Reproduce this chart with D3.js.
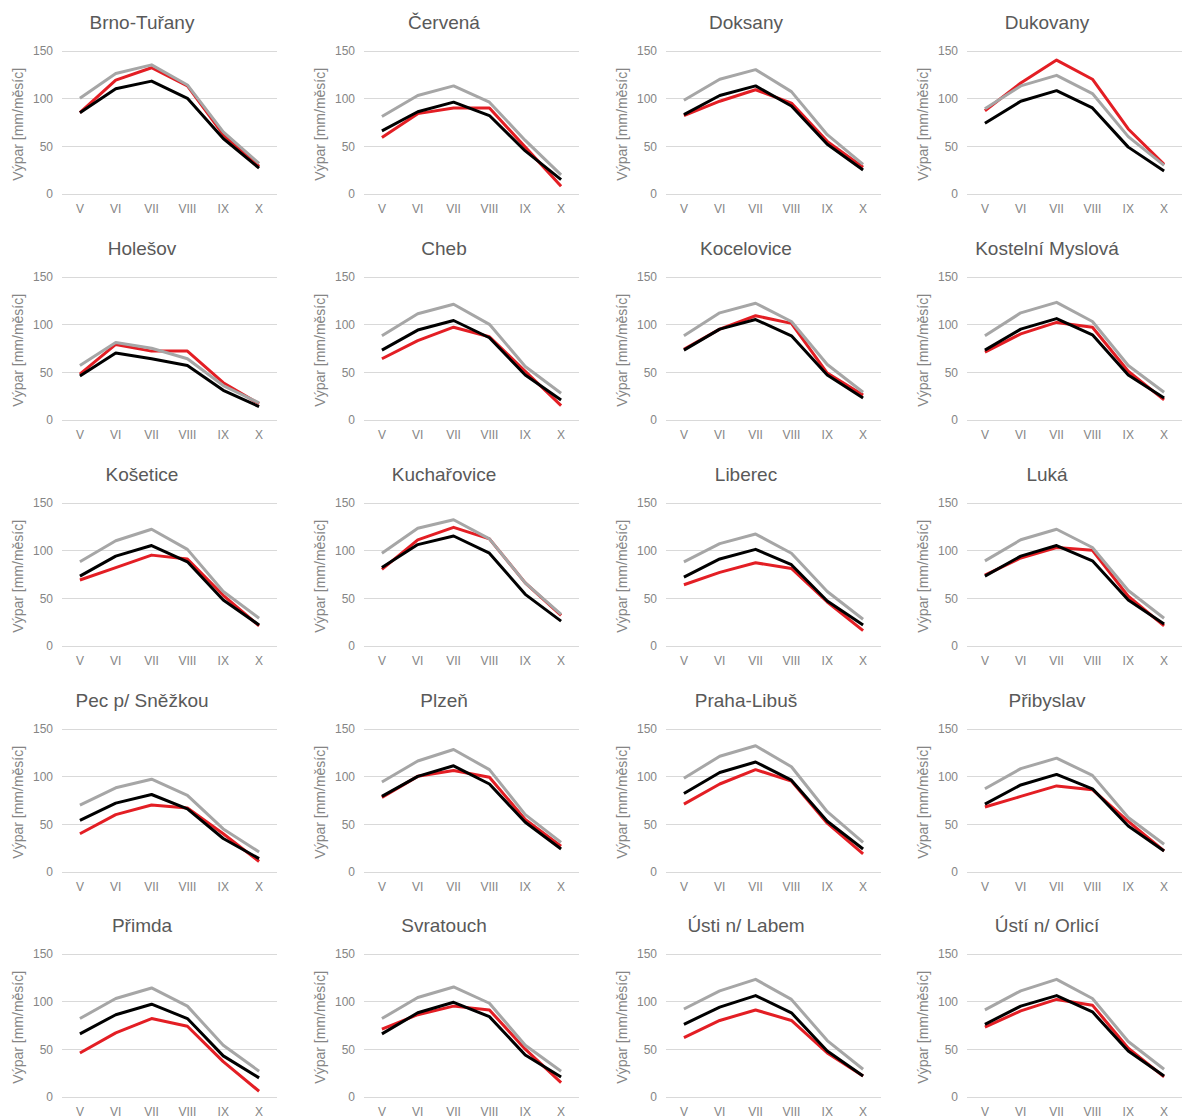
<!DOCTYPE html>
<html>
<head>
<meta charset="utf-8">
<script src="https://cdn.jsdelivr.net/npm/d3@7"></script>
<style>
  body { margin: 0; background: #fff; }
  text { font-family: "Liberation Sans", Arial, sans-serif; }
  .grid line { stroke: #d9d9d9; stroke-width: 1; }
  .axis text { fill: #858585; font-size: 12px; }
  .title { fill: #595959; font-size: 19px; }
  .ytitle { fill: #858585; font-size: 14px; }
  .line { fill: none; stroke-width: 3; stroke-linejoin: round; }
</style>
</head>
<body>
<svg id="chart" width="1182" height="1119"></svg>
<script>
var stations = ["Brno-Tuřany", "Červená", "Doksany", "Dukovany",
  "Holešov", "Cheb", "Kocelovice", "Kostelní Myslová",
  "Košetice", "Kuchařovice", "Liberec", "Luká",
  "Pec p/ Sněžkou", "Plzeň", "Praha-Libuš", "Přibyslav",
  "Přimda", "Svratouch", "Ústi n/ Labem", "Ústí n/ Orlicí"];

var months = ["V", "VI", "VII", "VIII", "IX", "X"];
var yTicks = [0, 50, 100, 150];

// light gray series
var grayVals = [
  [100, 126, 135, 114, 65, 32],
  [81, 103, 113, 96, 56, 20],
  [98, 120, 130, 107, 62, 31],
  [89, 113, 124, 105, 60, 30],
  [57, 81, 75, 64, 36, 18],
  [88, 111, 121, 100, 56, 28],
  [88, 112, 122, 103, 58, 29],
  [88, 112, 123, 103, 57, 29],
  [88, 110, 122, 101, 57, 29],
  [97, 123, 132, 112, 66, 33],
  [88, 107, 117, 97, 57, 28],
  [89, 111, 122, 103, 58, 29],
  [70, 88, 97, 80, 45, 21],
  [94, 116, 128, 107, 60, 31],
  [98, 121, 132, 110, 63, 31],
  [87, 108, 119, 101, 57, 29],
  [82, 103, 114, 95, 54, 27],
  [82, 104, 115, 98, 54, 27],
  [92, 111, 123, 102, 59, 29],
  [91, 111, 123, 103, 58, 29]
];

// black series
var blackVals = [
  [85, 110, 118, 100, 58, 27],
  [66, 86, 96, 82, 45, 15],
  [83, 103, 113, 92, 52, 25],
  [74, 97, 108, 90, 49, 24],
  [46, 70, 64, 57, 31, 14],
  [73, 94, 104, 86, 47, 21],
  [73, 95, 105, 88, 47, 23],
  [73, 95, 106, 89, 47, 23],
  [73, 94, 105, 88, 48, 22],
  [82, 106, 115, 97, 54, 26],
  [72, 91, 101, 85, 47, 22],
  [73, 94, 105, 89, 48, 23],
  [54, 72, 81, 66, 35, 14],
  [79, 100, 111, 92, 52, 24],
  [82, 104, 115, 96, 53, 24],
  [71, 91, 102, 87, 48, 22],
  [66, 86, 97, 82, 43, 20],
  [66, 88, 99, 84, 44, 21],
  [76, 94, 106, 88, 48, 22],
  [76, 95, 106, 89, 48, 22]
];

// red series
var redVals = [
  [85, 119, 132, 113, 62, 29],
  [59, 84, 90, 90, 49, 8],
  [82, 97, 109, 95, 55, 28],
  [87, 116, 140, 120, 68, 31],
  [48, 79, 72, 72, 39, 17],
  [64, 83, 97, 87, 51, 15],
  [74, 95, 109, 101, 49, 26],
  [71, 90, 102, 97, 51, 21],
  [69, 82, 95, 91, 53, 21],
  [80, 111, 124, 112, 66, 32],
  [64, 77, 87, 81, 46, 16],
  [74, 92, 103, 100, 52, 21],
  [40, 60, 70, 67, 40, 11],
  [78, 100, 106, 99, 55, 27],
  [71, 92, 107, 95, 51, 19],
  [68, 79, 90, 86, 53, 22],
  [46, 67, 82, 74, 37, 6],
  [71, 86, 95, 91, 50, 15],
  [62, 80, 91, 80, 46, 22],
  [73, 90, 102, 96, 51, 21]
];

var svg = d3.select("#chart");

var colX = [0, 302, 604, 905];
var rowY = [0, 226, 452, 678, 903];
var plot = {left: 62, right: 277, top: 50.5, bottom: 194};

var x = d3.scaleBand().domain(months).range([plot.left, plot.right]);
var y = d3.scaleLinear().domain([0, 150]).range([plot.bottom, plot.top]);

var line = d3.line()
    .x(function(d, i) { return x(months[i]) + x.bandwidth() / 2; })
    .y(function(d) { return y(d); });

stations.forEach(function(name, k) {
  var g = svg.append("g")
      .attr("transform", "translate(" + colX[k % 4] + "," + rowY[Math.floor(k / 4)] + ")");

  // gridlines
  g.append("g")
      .attr("class", "grid")
    .selectAll("line")
    .data(yTicks)
    .enter().append("line")
      .attr("x1", plot.left)
      .attr("x2", plot.right)
      .attr("y1", function(d) { return Math.round(y(d)) + 0.5; })
      .attr("y2", function(d) { return Math.round(y(d)) + 0.5; });

  // y axis labels
  var yAxis = d3.axisLeft(y).tickValues(yTicks).tickSize(0).tickPadding(9);
  g.append("g")
      .attr("class", "axis")
      .attr("transform", "translate(" + plot.left + ",0)")
      .call(yAxis)
      .call(function(a) { a.select(".domain").remove(); });

  // x axis labels
  var xAxis = d3.axisBottom(x).tickSize(0).tickPadding(10);
  g.append("g")
      .attr("class", "axis")
      .attr("transform", "translate(0," + plot.bottom + ")")
      .call(xAxis)
      .call(function(a) { a.select(".domain").remove(); });

  g.selectAll(".axis").attr("font-family", null).attr("font-size", null);

  g.append("text")
      .attr("class", "ytitle")
      .attr("transform", "translate(23," + ((plot.top + plot.bottom) / 2 + 2) + ") rotate(-90)")
      .attr("text-anchor", "middle")
      .text("Výpar [mm/měsíc]");

  g.append("text")
      .attr("class", "title")
      .attr("x", 142)
      .attr("y", 29)
      .attr("text-anchor", "middle")
      .text(name);

  g.append("path")
      .datum(redVals[k])
      .attr("class", "line")
      .attr("stroke", "#e31e24")
      .attr("d", line);

  g.append("path")
      .datum(grayVals[k])
      .attr("class", "line")
      .attr("stroke", "#a6a6a6")
      .attr("d", line);

  g.append("path")
      .datum(blackVals[k])
      .attr("class", "line")
      .attr("stroke", "#000")
      .attr("d", line);
});
</script>
</body>
</html>
